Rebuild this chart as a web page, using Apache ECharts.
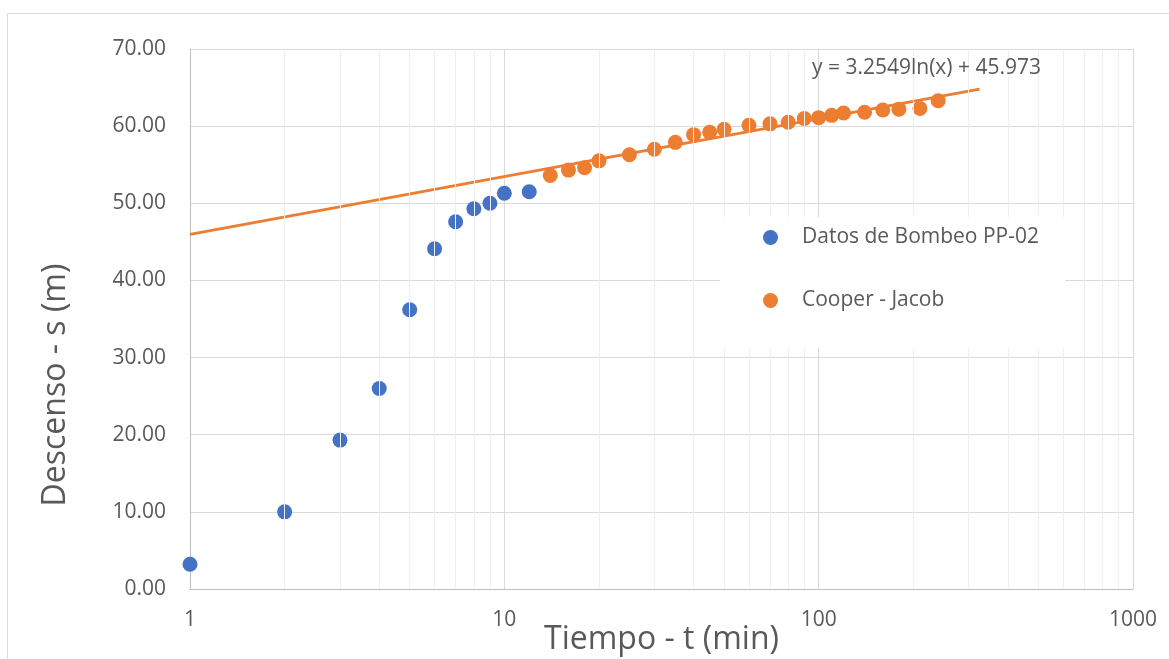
<!DOCTYPE html>
<html>
<head>
<meta charset="utf-8">
<script src="https://cdn.jsdelivr.net/npm/echarts@6/dist/echarts.min.js"></script>
<style>
html,body{margin:0;padding:0;background:#fff;width:100%;height:100%;overflow:hidden;}
#c{width:1169px;height:659px;}
</style>
</head>
<body>
<div id="c"></div>
<script>
// Data
const bombeoT = [1, 2, 3, 4, 5, 6, 7, 8, 9, 10, 12];
const bombeoS = [3.2, 10.0, 19.3, 26.0, 36.2, 44.1, 47.6, 49.3, 50.0, 51.3, 51.5];
const cooperT = [14, 16, 18, 20, 25, 30, 35, 40, 45, 50, 60, 70, 80, 90, 100, 110, 120, 140, 160, 180, 210, 240];
const cooperS = [53.6, 54.3, 54.6, 55.5, 56.3, 57.0, 57.9, 58.9, 59.2, 59.6, 60.1, 60.3, 60.5, 61.0, 61.1, 61.4, 61.7, 61.8, 62.1, 62.2, 62.3, 63.3];
const trendT = [1, 325];
const trendS = [45.973, 64.80];
const minorTicks = [2,3,4,5,6,7,8,9,20,30,40,50,60,70,80,90,200,300,400,500,600,700,800,900];
const xTickLabels = ['1', '10', '100', '1000'];
const seriesNames = ['Datos de Bombeo PP-02', 'Cooper - Jacob'];
const equationText = 'y = 3.2549ln(x) + 45.973';
const xTitle = 'Tiempo - t (min)';
const yTitle = 'Descenso - s (m)';

const FONT = '"Open Sans", sans-serif';
const GREY = '#595959';
const zip = (a, b) => a.map((v, i) => [v, b[i]]);

const el = document.getElementById('c');
const chart = echarts.init(el, null, {renderer: 'canvas'});
chart.setOption({
  backgroundColor: '#ffffff',
  animation: false,
  grid: {left: 190, right: 36, top: 49, bottom: 70, containLabel: false, outerBoundsMode: 'none'},
  xAxis: {
    type: 'log', logBase: 10, min: 1, max: 1000,
    name: xTitle, nameLocation: 'middle', nameGap: 35, nameMoveOverlap: false,
    nameTextStyle: {fontFamily: FONT, fontSize: 32, color: GREY},
    axisLine: {show: true, lineStyle: {color: '#bfbfbf', width: 1}},
    axisTick: {show: false},
    axisLabel: {
      fontFamily: FONT, fontSize: 21, color: GREY, margin: 21,
      formatter: v => { const i = Math.round(Math.log10(v)); return xTickLabels[i] !== undefined ? xTickLabels[i] : ''; }
    },
    splitLine: {show: true, lineStyle: {color: '#d9d9d9', width: 1}},
    minorTick: {show: false},
    minorSplitLine: {show: false}
  },
  yAxis: {
    type: 'value', min: 0, max: 70, interval: 10,
    axisLine: {show: true, lineStyle: {color: '#bfbfbf', width: 1}},
    axisTick: {show: false},
    axisLabel: {fontFamily: FONT, fontSize: 21, color: GREY, margin: 24, formatter: v => v.toFixed(2)},
    splitLine: {show: true, lineStyle: {color: '#d9d9d9', width: 1}}
  },
  legend: {
    orient: 'vertical', left: 720, top: 217, z: 10,
    padding: [10, 26, 37, 43],
    backgroundColor: '#ffffff',
    itemWidth: 15, itemHeight: 15, itemGap: 42,
    icon: 'circle',
    data: seriesNames,
    textStyle: {fontFamily: FONT, fontSize: 21, color: GREY, padding: [0, 0, 0, 19]}
  },
  graphic: [
    {type: 'rect', silent: true, z: -10, shape: {x: 7.5, y: 13.5, width: 1170, height: 700},
     style: {fill: 'none', stroke: '#d9d9d9', lineWidth: 1}},
    {type: 'text', silent: true, x: 56, y: 385, rotation: Math.PI / 2,
     style: {text: yTitle, font: '32px ' + FONT, fill: GREY, textAlign: 'center', textVerticalAlign: 'middle'}},
    {type: 'text', silent: true, x: 812, y: 68, z: 100,
     style: {text: equationText, font: '21px ' + FONT, fill: GREY, textAlign: 'left', textVerticalAlign: 'middle'}}
  ],
  series: [
    {
      name: 'minorGrid', type: 'scatter', data: [], z: 1, silent: true,
      markLine: {
        silent: true, symbol: ['none', 'none'], label: {show: false},
        lineStyle: {color: '#efefef', width: 1, type: 'solid'},
        emphasis: {disabled: true},
        data: minorTicks.map(v => ({xAxis: v}))
      }
    },
    {
      name: 'trend', type: 'line', data: zip(trendT, trendS), z: 3,
      showSymbol: false, symbol: 'none', silent: true,
      lineStyle: {color: '#ED7D31', width: 3}
    },
    {
      name: seriesNames[0], type: 'scatter', data: zip(bombeoT, bombeoS), z: 4,
      symbol: 'circle', symbolSize: 15, itemStyle: {color: '#4472C4', opacity: 1}
    },
    {
      name: seriesNames[1], type: 'scatter', data: zip(cooperT, cooperS), z: 4,
      symbol: 'circle', symbolSize: 15, itemStyle: {color: '#ED7D31', opacity: 1}
    }
  ]
});
</script>
</body>
</html>
